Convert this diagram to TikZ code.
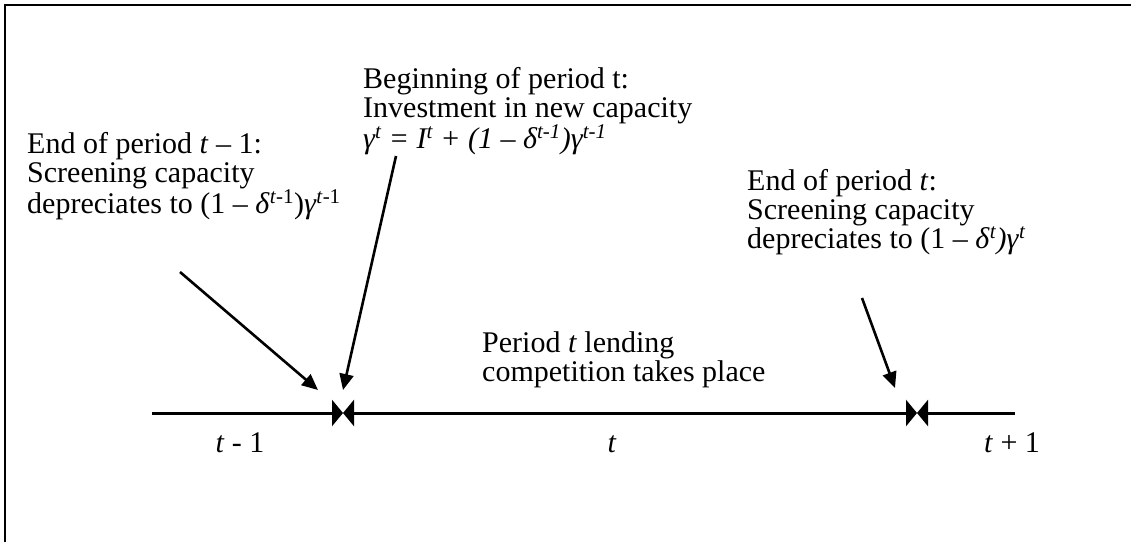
\documentclass[tikz,border=0pt]{standalone}
\usepackage{fontspec}
\setmainfont{Liberation Serif}
\usetikzlibrary{arrows.meta}
\begin{document}
\begin{tikzpicture}[x=1pt,y=-1pt,
  txt/.style={anchor=base west, inner sep=0pt, align=left, font=\fontsize{30}{29}\selectfont},
  lbl/.style={anchor=base, inner sep=0pt, font=\fontsize{30}{29}\selectfont},
  pointer/.style={line width=2.6pt, -{Triangle[length=16pt,width=14pt]}},
  axis/.style={line width=3pt},
  bow/.style={Triangle[length=11pt,width=26pt]}
]
\useasboundingbox (0,0) rectangle (1131,541);
\clip (0,0) rectangle (1131,541);
\draw[line width=2.5pt] (5,5) rectangle (1200,600);

% timeline
\coordinate (L) at (152,413);
\coordinate (J1) at (343,413);
\coordinate (J2) at (917,413);
\coordinate (R) at (1015,413);
\draw[axis,-{Triangle[length=11pt,width=26pt]}] (L) -- (J1);
\draw[axis,{Triangle[length=11pt,width=26pt]}-{Triangle[length=11pt,width=26pt]}] (J1) -- (J2);
\draw[axis,{Triangle[length=11pt,width=26pt]}-] (J2) -- (R);

% texts (anchor = baseline of the last line)
\node[txt] (beg) at (363,148) {Beginning of period t:\\Investment in new capacity\\\textit{γ\textsuperscript{t} = I\textsuperscript{t} + (1 – δ\textsuperscript{t-1})γ\textsuperscript{t-1}}};
\node[txt] (endA) at (27,213) {End of period \textit{t} – 1:\\Screening capacity\\depreciates to (1 – \textit{δ}\textsuperscript{\textit{t}-1})\textit{γ}\textsuperscript{\textit{t}-1}};
\node[txt] (endB) at (747,248) {End of period \textit{t}:\\Screening capacity\\depreciates to (1 – \textit{δ}\textsuperscript{\textit{t}}\textit{)γ}\textsuperscript{\textit{t}}};
\node[txt] (per) at (482,381) {Period \textit{t} lending\\competition takes place};

\node[lbl] (tm1) at (240,452) {\textit{t} - 1};
\node[lbl] (tt) at (612,452) {\textit{t}};
\node[lbl] (tp1) at (1012,452) {\textit{t} + 1};

% pointers
\coordinate (a1s) at (180,272); \coordinate (a1e) at (318,390);
\coordinate (a2s) at (396,156); \coordinate (a2e) at (343,390);
\coordinate (a3s) at (862,298); \coordinate (a3e) at (895,388);
\draw[pointer] (a1s) -- (a1e);
\draw[pointer] (a2s) -- (a2e);
\draw[pointer] (a3s) -- (a3e);
\end{tikzpicture}
\end{document}
